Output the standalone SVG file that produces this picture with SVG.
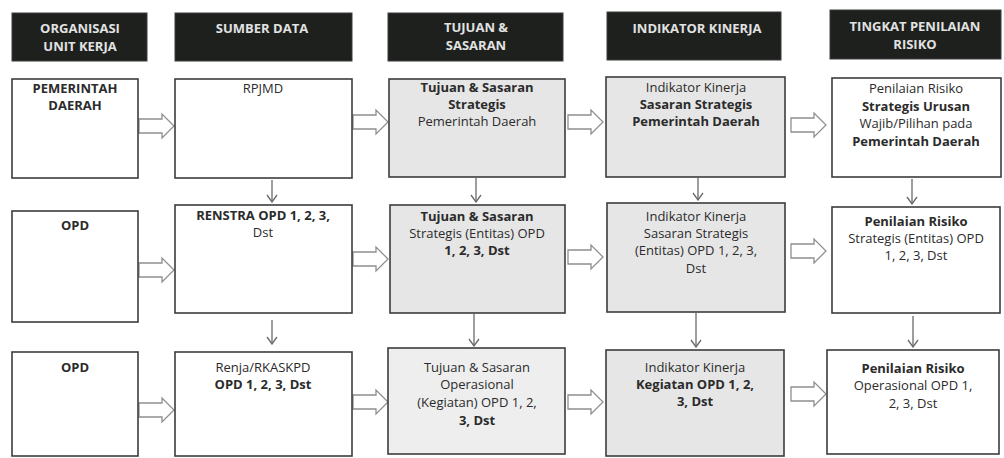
<svg xmlns="http://www.w3.org/2000/svg" width="1004" height="458" viewBox="0 0 1004 458">
<style>
.hd{fill:#1d201d;stroke:#3a3d3a;stroke-width:1}
.ht{font-family:"Open Sans","Liberation Sans",sans-serif;font-size:13px;font-weight:700;fill:#e2e2e2;text-anchor:middle}
.bx{fill:#ffffff;stroke:#3c3c3c;stroke-width:1.6}
.gy{fill:#e6e6e6;stroke:#3c3c3c;stroke-width:1.6}
.gl{fill:#eeeeee;stroke:#3c3c3c;stroke-width:1.6}
.t{font-family:"Open Sans","Liberation Sans",sans-serif;font-size:13px;fill:#2b2b2b;text-anchor:middle}
.b{font-weight:700}
.ba{fill:#ffffff;stroke:#8f8f8f;stroke-width:1.3}
.va{fill:none;stroke:#6a6a6a;stroke-width:1.3}
</style>
<defs>
<marker id="v" viewBox="0 0 12 12" refX="11" refY="6" markerWidth="12" markerHeight="12" markerUnits="userSpaceOnUse" orient="auto">
<path d="M4,1 L11,6 L4,11" fill="none" stroke="#6a6a6a" stroke-width="1.3"/>
</marker>
<path id="blk" d="M0,-7 H23 V-12 L35,0 L23,12 V7 H0 Z"/>
</defs>
<rect width="1004" height="458" fill="#ffffff"/>

<g id="headers">
<g id="h1"><rect class="hd" x="12" y="13" width="135" height="48"/><text class="ht" x="80" y="33">ORGANISASI</text><text class="ht" x="80" y="51">UNIT KERJA</text></g>
<g id="h2"><rect class="hd" x="175" y="13" width="177" height="48"/><text class="ht" x="262" y="33">SUMBER DATA</text></g>
<g id="h3"><rect class="hd" x="388" y="13" width="175" height="48"/><text class="ht" x="476" y="32">TUJUAN &amp;</text><text class="ht" x="476" y="50">SASARAN</text></g>
<g id="h4"><rect class="hd" x="607" y="12" width="174" height="48"/><text class="ht" x="697" y="33">INDIKATOR KINERJA</text></g>
<g id="h5"><rect class="hd" x="830" y="10" width="171" height="49"/><text class="ht" x="915" y="31">TINGKAT PENILAIAN</text><text class="ht" x="915" y="49">RISIKO</text></g>
</g>

<g id="connectors">
<use href="#blk" class="ba" x="139" y="126"/>
<use href="#blk" class="ba" x="353" y="122"/>
<use href="#blk" class="ba" x="568" y="122"/>
<use href="#blk" class="ba" x="791" y="125"/>
<use href="#blk" class="ba" x="139" y="270"/>
<use href="#blk" class="ba" x="353" y="259"/>
<use href="#blk" class="ba" x="568" y="257"/>
<use href="#blk" class="ba" x="791" y="251"/>
<use href="#blk" class="ba" x="139" y="410"/>
<use href="#blk" class="ba" x="353" y="402"/>
<use href="#blk" class="ba" x="568" y="402"/>
<use href="#blk" class="ba" x="791" y="394"/>
<line class="va" x1="272" y1="180" x2="272" y2="202" marker-end="url(#v)"/>
<line class="va" x1="476" y1="178" x2="476" y2="202" marker-end="url(#v)"/>
<line class="va" x1="698" y1="178" x2="698" y2="200" marker-end="url(#v)"/>
<line class="va" x1="912" y1="179" x2="912" y2="204" marker-end="url(#v)"/>
<line class="va" x1="272" y1="320" x2="272" y2="344" marker-end="url(#v)"/>
<line class="va" x1="474" y1="314" x2="474" y2="346" marker-end="url(#v)"/>
<line class="va" x1="696" y1="313" x2="696" y2="347" marker-end="url(#v)"/>
<line class="va" x1="913" y1="316" x2="913" y2="347" marker-end="url(#v)"/>
</g>

<g id="a1"><rect class="bx" x="12" y="79" width="126" height="99"/><text class="t b" x="75" y="93">PEMERINTAH</text><text class="t b" x="75" y="110">DAERAH</text></g>
<g id="b1"><rect class="bx" x="175" y="79" width="177" height="99"/><text class="t" x="263" y="93">RPJMD</text></g>
<g id="c1"><rect class="gy" x="389" y="79" width="176" height="98"/><text class="t b" x="477" y="92">Tujuan &amp; Sasaran</text><text class="t b" x="477" y="109">Strategis</text><text class="t" x="477" y="126">Pemerintah Daerah</text></g>
<g id="d1"><rect class="gy" x="606" y="77" width="179" height="100"/><text class="t" x="696" y="92">Indikator Kinerja</text><text class="t b" x="696" y="109">Sasaran Strategis</text><text class="t b" x="696" y="126">Pemerintah Daerah</text></g>
<g id="e1"><rect class="bx" x="832" y="78" width="169" height="99"/><text class="t" x="916" y="93">Penilaian Risiko</text><text class="t b" x="916" y="111">Strategis Urusan</text><text class="t" x="916" y="128">Wajib/Pilihan pada</text><text class="t b" x="916" y="146">Pemerintah Daerah</text></g>

<g id="a2"><rect class="bx" x="12" y="211" width="126" height="111"/><text class="t b" x="75" y="230">OPD</text></g>
<g id="b2"><rect class="bx" x="175" y="205" width="177" height="108"/><text class="t b" x="263" y="220">RENSTRA OPD 1, 2, 3,</text><text class="t" x="263" y="237">Dst</text></g>
<g id="c2"><rect class="gy" x="390" y="205" width="175" height="108"/><text class="t b" x="477" y="221">Tujuan &amp; Sasaran</text><text class="t" x="477" y="238">Strategis (Entitas) OPD</text><text class="t b" x="477" y="255">1, 2, 3, Dst</text></g>
<g id="d2"><rect class="gy" x="607" y="203" width="178" height="109"/><text class="t" x="696" y="221">Indikator Kinerja</text><text class="t" x="696" y="238">Sasaran Strategis</text><text class="t" x="696" y="255">(Entitas) OPD 1, 2, 3,</text><text class="t" x="696" y="273">Dst</text></g>
<g id="e2"><rect class="bx" x="832" y="207" width="168" height="106"/><text class="t b" x="916" y="226">Penilaian Risiko</text><text class="t" x="916" y="243">Strategis (Entitas) OPD</text><text class="t" x="916" y="260">1, 2, 3, Dst</text></g>

<g id="a3"><rect class="bx" x="12" y="352" width="126" height="104"/><text class="t b" x="75" y="372">OPD</text></g>
<g id="b3"><rect class="bx" x="175" y="352" width="177" height="104"/><text class="t" x="263" y="372">Renja/RKASKPD</text><text class="t b" x="263" y="389">OPD 1, 2, 3, Dst</text></g>
<g id="c3"><rect class="gl" x="388" y="348" width="177" height="106"/><text class="t" x="477" y="372">Tujuan &amp; Sasaran</text><text class="t" x="477" y="389">Operasional</text><text class="t" x="477" y="407">(Kegiatan) OPD 1, 2,</text><text class="t b" x="477" y="425">3, Dst</text></g>
<g id="d3"><rect class="gy" x="606" y="350" width="178" height="106"/><text class="t" x="695" y="372">Indikator Kinerja</text><text class="t b" x="695" y="389">Kegiatan OPD 1, 2,</text><text class="t b" x="695" y="406">3, Dst</text></g>
<g id="e3"><rect class="bx" x="827" y="350" width="172" height="104"/><text class="t b" x="913" y="373">Penilaian Risiko</text><text class="t" x="913" y="390">Operasional OPD 1,</text><text class="t" x="913" y="408">2, 3, Dst</text></g>
</svg>
